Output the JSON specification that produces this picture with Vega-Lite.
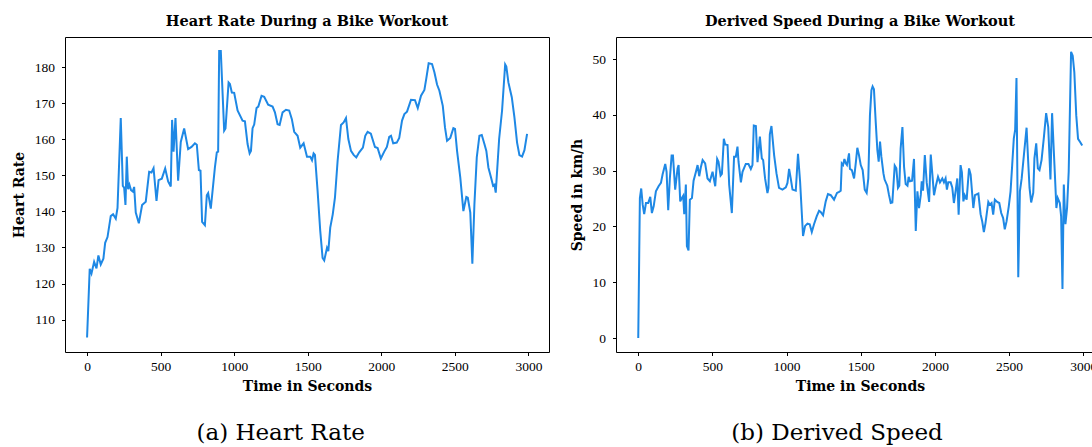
{
  "$schema": "https://vega.github.io/schema/vega-lite/v6.json",
  "padding": {"left": 11, "top": 13, "right": 0, "bottom": 0},
  "background": "white",
  "config": {
    "font": "DejaVu Serif",
    "view": {"stroke": "black", "strokeWidth": 1},
    "axis": {
      "grid": false, "domain": false, "ticks": true, "tickColor": "black", "tickSize": 3.5, "tickWidth": 1,
      "labelFont": "Liberation Serif", "labelFontSize": 13.5, "labelColor": "black", "labelPadding": 4,
      "titleFont": "DejaVu Serif", "titleFontSize": 14, "titleFontWeight": "bold", "titleColor": "black"
    },
    "axisY": {"labelPadding": 7, "titlePadding": 8},
    "axisX": {"titlePadding": 6},
    "title": {"font": "DejaVu Serif", "fontSize": 14.5, "fontWeight": "bold", "color": "black", "offset": 8}
  },
  "datasets": {
    "hr": [
      {"t":0,"hr":105},{"t":18,"hr":124.1},{"t":30,"hr":122.8},{"t":48,"hr":126},{"t":64,"hr":124.2},{"t":77,"hr":127.8},{"t":93,"hr":125.3},{"t":111,"hr":126.9},{"t":123,"hr":131.3},{"t":139,"hr":132.9},{"t":161,"hr":138.7},{"t":177,"hr":139.2},{"t":195,"hr":138},{"t":207,"hr":141},{"t":229,"hr":165.9},{"t":243,"hr":147.1},{"t":252,"hr":146.6},{"t":261,"hr":141.8},{"t":270,"hr":155.2},{"t":279,"hr":146.2},{"t":288,"hr":147.4},{"t":299,"hr":145.9},{"t":311,"hr":145.5},{"t":320,"hr":146.8},{"t":331,"hr":139.7},{"t":352,"hr":136.7},{"t":374,"hr":141.8},{"t":399,"hr":142.7},{"t":422,"hr":151},{"t":438,"hr":150.8},{"t":452,"hr":152},{"t":472,"hr":142.9},{"t":486,"hr":148.7},{"t":508,"hr":149.1},{"t":531,"hr":151.9},{"t":551,"hr":148.3},{"t":569,"hr":146.9},{"t":578,"hr":165.4},{"t":588,"hr":156.6},{"t":601,"hr":165.9},{"t":619,"hr":148.5},{"t":637,"hr":159.3},{"t":660,"hr":163},{"t":687,"hr":157.3},{"t":710,"hr":157.9},{"t":733,"hr":158.9},{"t":746,"hr":158.5},{"t":760,"hr":151.5},{"t":771,"hr":151.3},{"t":782,"hr":137.1},{"t":801,"hr":136.2},{"t":814,"hr":144.5},{"t":823,"hr":145.1},{"t":841,"hr":140.8},{"t":869,"hr":152.2},{"t":882,"hr":156.4},{"t":891,"hr":156.6},{"t":898,"hr":184.5},{"t":909,"hr":184.5},{"t":932,"hr":162.4},{"t":941,"hr":163},{"t":962,"hr":175.8},{"t":971,"hr":175.4},{"t":984,"hr":173},{"t":1000,"hr":172.9},{"t":1023,"hr":168},{"t":1057,"hr":165.2},{"t":1073,"hr":165},{"t":1091,"hr":158.7},{"t":1105,"hr":156.1},{"t":1114,"hr":156.8},{"t":1125,"hr":163.1},{"t":1136,"hr":164.1},{"t":1152,"hr":168.7},{"t":1164,"hr":169.1},{"t":1186,"hr":172.1},{"t":1204,"hr":171.8},{"t":1231,"hr":169.6},{"t":1261,"hr":169.1},{"t":1277,"hr":167.5},{"t":1295,"hr":164.2},{"t":1309,"hr":164},{"t":1329,"hr":167.5},{"t":1352,"hr":168.2},{"t":1374,"hr":168},{"t":1392,"hr":165.6},{"t":1408,"hr":162.1},{"t":1431,"hr":161},{"t":1449,"hr":157.7},{"t":1472,"hr":158.9},{"t":1495,"hr":155.2},{"t":1517,"hr":155.2},{"t":1529,"hr":154.2},{"t":1540,"hr":156.1},{"t":1549,"hr":155.7},{"t":1567,"hr":145.7},{"t":1585,"hr":134.6},{"t":1601,"hr":127.1},{"t":1612,"hr":126.4},{"t":1631,"hr":129.9},{"t":1640,"hr":129},{"t":1653,"hr":135.5},{"t":1670,"hr":139.2},{"t":1685,"hr":143.8},{"t":1703,"hr":154},{"t":1726,"hr":164},{"t":1744,"hr":164.7},{"t":1760,"hr":165.9},{"t":1776,"hr":160.1},{"t":1794,"hr":156.8},{"t":1812,"hr":155.7},{"t":1830,"hr":155},{"t":1850,"hr":156.4},{"t":1875,"hr":157.7},{"t":1891,"hr":161},{"t":1907,"hr":162.1},{"t":1929,"hr":161.6},{"t":1957,"hr":157.9},{"t":1975,"hr":157.6},{"t":1997,"hr":154.7},{"t":2020,"hr":156.6},{"t":2038,"hr":157.9},{"t":2054,"hr":160.7},{"t":2066,"hr":161},{"t":2081,"hr":158.9},{"t":2105,"hr":159.1},{"t":2122,"hr":160.4},{"t":2141,"hr":165.2},{"t":2157,"hr":167},{"t":2175,"hr":167.7},{"t":2202,"hr":171},{"t":2229,"hr":170.9},{"t":2248,"hr":168.7},{"t":2270,"hr":172.1},{"t":2293,"hr":173.7},{"t":2306,"hr":176.9},{"t":2322,"hr":181.1},{"t":2345,"hr":180.9},{"t":2361,"hr":178.6},{"t":2379,"hr":175.2},{"t":2395,"hr":173.5},{"t":2418,"hr":169.3},{"t":2433,"hr":163.3},{"t":2447,"hr":159.6},{"t":2469,"hr":160.4},{"t":2490,"hr":163.1},{"t":2501,"hr":162.9},{"t":2515,"hr":156.8},{"t":2537,"hr":149.4},{"t":2558,"hr":140.1},{"t":2578,"hr":144},{"t":2588,"hr":143.8},{"t":2605,"hr":139.7},{"t":2619,"hr":125.5},{"t":2633,"hr":142},{"t":2649,"hr":155},{"t":2667,"hr":161},{"t":2683,"hr":161.2},{"t":2701,"hr":158.7},{"t":2714,"hr":156.8},{"t":2728,"hr":152.2},{"t":2746,"hr":149.4},{"t":2760,"hr":147.1},{"t":2769,"hr":147.4},{"t":2778,"hr":145.2},{"t":2801,"hr":160.1},{"t":2821,"hr":168},{"t":2842,"hr":180.8},{"t":2850,"hr":180.2},{"t":2864,"hr":175.8},{"t":2887,"hr":171.7},{"t":2905,"hr":166.1},{"t":2923,"hr":159.1},{"t":2939,"hr":155.6},{"t":2957,"hr":155.2},{"t":2973,"hr":157},{"t":2991,"hr":161.5}
    ],
    "speed": [
      {"t":0,"v":0},{"t":11,"v":25.1},{"t":20,"v":26.8},{"t":30,"v":23.9},{"t":40,"v":22.2},{"t":52,"v":24.2},{"t":67,"v":24.2},{"t":81,"v":25.3},{"t":92,"v":22.4},{"t":104,"v":23.6},{"t":119,"v":26.3},{"t":137,"v":27.2},{"t":153,"v":27.8},{"t":164,"v":29.3},{"t":182,"v":31.2},{"t":191,"v":29.8},{"t":202,"v":22.9},{"t":213,"v":28.6},{"t":225,"v":32.7},{"t":234,"v":32.7},{"t":249,"v":26.6},{"t":265,"v":30.4},{"t":272,"v":31},{"t":283,"v":24.5},{"t":294,"v":25.1},{"t":303,"v":25.5},{"t":310,"v":22.2},{"t":321,"v":27.5},{"t":328,"v":16.5},{"t":339,"v":15.7},{"t":348,"v":24.8},{"t":362,"v":25.1},{"t":373,"v":28.2},{"t":389,"v":29.8},{"t":400,"v":31},{"t":411,"v":29},{"t":422,"v":30.6},{"t":434,"v":31.9},{"t":451,"v":31.3},{"t":467,"v":28.6},{"t":483,"v":28.1},{"t":501,"v":29.8},{"t":519,"v":27.2},{"t":532,"v":32.1},{"t":541,"v":31.6},{"t":555,"v":29.1},{"t":564,"v":29.4},{"t":577,"v":35.7},{"t":586,"v":34.7},{"t":602,"v":34.6},{"t":613,"v":27.5},{"t":631,"v":22.4},{"t":646,"v":32.5},{"t":658,"v":32.5},{"t":669,"v":34.3},{"t":676,"v":31.6},{"t":692,"v":27.9},{"t":703,"v":29.8},{"t":725,"v":31.2},{"t":743,"v":31.2},{"t":759,"v":30.3},{"t":770,"v":31},{"t":779,"v":38.1},{"t":793,"v":38},{"t":804,"v":31.5},{"t":820,"v":36.1},{"t":833,"v":32.2},{"t":842,"v":31.9},{"t":855,"v":28.6},{"t":871,"v":26},{"t":878,"v":26.9},{"t":887,"v":36.5},{"t":898,"v":38},{"t":916,"v":32.8},{"t":932,"v":29.5},{"t":949,"v":26.9},{"t":972,"v":26.6},{"t":995,"v":27},{"t":1006,"v":27.8},{"t":1017,"v":30.3},{"t":1028,"v":28.6},{"t":1040,"v":26.6},{"t":1062,"v":26.4},{"t":1077,"v":33},{"t":1091,"v":28.1},{"t":1111,"v":18.3},{"t":1125,"v":20.1},{"t":1141,"v":20.5},{"t":1156,"v":20.4},{"t":1170,"v":19},{"t":1185,"v":20.4},{"t":1203,"v":21.8},{"t":1219,"v":22.8},{"t":1230,"v":22.6},{"t":1246,"v":22},{"t":1264,"v":24.5},{"t":1279,"v":25.8},{"t":1298,"v":25.6},{"t":1320,"v":24.8},{"t":1340,"v":26},{"t":1354,"v":26.2},{"t":1365,"v":26.4},{"t":1372,"v":31.3},{"t":1381,"v":31},{"t":1390,"v":32.1},{"t":1399,"v":31.3},{"t":1407,"v":31},{"t":1421,"v":33.1},{"t":1427,"v":30.3},{"t":1440,"v":30.1},{"t":1455,"v":28.6},{"t":1467,"v":31.5},{"t":1477,"v":34.1},{"t":1488,"v":32.8},{"t":1500,"v":31},{"t":1513,"v":30.1},{"t":1527,"v":26.6},{"t":1540,"v":26},{"t":1551,"v":28.6},{"t":1562,"v":39.9},{"t":1572,"v":44.4},{"t":1580,"v":45.1},{"t":1589,"v":44.6},{"t":1601,"v":38.7},{"t":1612,"v":33.7},{"t":1621,"v":31.6},{"t":1630,"v":35.2},{"t":1639,"v":32.5},{"t":1653,"v":29.5},{"t":1661,"v":28.4},{"t":1679,"v":27.3},{"t":1690,"v":25.7},{"t":1702,"v":24.2},{"t":1713,"v":24.3},{"t":1729,"v":30.9},{"t":1740,"v":30.4},{"t":1751,"v":26.9},{"t":1760,"v":27.3},{"t":1769,"v":34},{"t":1781,"v":37.8},{"t":1792,"v":30.7},{"t":1803,"v":27.6},{"t":1815,"v":27.3},{"t":1823,"v":28.9},{"t":1832,"v":28.1},{"t":1846,"v":28.2},{"t":1859,"v":32.1},{"t":1871,"v":19.2},{"t":1882,"v":26.3},{"t":1893,"v":23.3},{"t":1905,"v":25.7},{"t":1911,"v":28.1},{"t":1920,"v":26.4},{"t":1932,"v":32.8},{"t":1945,"v":27.8},{"t":1961,"v":24.4},{"t":1972,"v":32.9},{"t":1983,"v":29.3},{"t":1994,"v":25.6},{"t":2006,"v":27.2},{"t":2021,"v":28.9},{"t":2034,"v":27.9},{"t":2050,"v":28.6},{"t":2061,"v":27.9},{"t":2072,"v":28.6},{"t":2081,"v":26.6},{"t":2090,"v":27.9},{"t":2106,"v":27.9},{"t":2117,"v":27},{"t":2128,"v":24.2},{"t":2140,"v":26.4},{"t":2151,"v":28.6},{"t":2160,"v":22.1},{"t":2173,"v":31},{"t":2182,"v":29.7},{"t":2192,"v":24.5},{"t":2201,"v":25.6},{"t":2214,"v":24.8},{"t":2230,"v":30.4},{"t":2241,"v":29.3},{"t":2259,"v":23.3},{"t":2270,"v":25.6},{"t":2293,"v":25.9},{"t":2308,"v":22.2},{"t":2319,"v":20.9},{"t":2330,"v":19},{"t":2341,"v":20.6},{"t":2360,"v":24.4},{"t":2370,"v":23.9},{"t":2382,"v":24.2},{"t":2393,"v":22.1},{"t":2404,"v":24.8},{"t":2420,"v":24.4},{"t":2434,"v":24.2},{"t":2447,"v":22.4},{"t":2460,"v":21.5},{"t":2471,"v":19.5},{"t":2483,"v":20.9},{"t":2498,"v":23.6},{"t":2510,"v":26.3},{"t":2521,"v":31},{"t":2532,"v":35.8},{"t":2541,"v":37.3},{"t":2550,"v":46.6},{"t":2562,"v":10.9},{"t":2573,"v":26.3},{"t":2585,"v":28.6},{"t":2600,"v":32.8},{"t":2618,"v":37.7},{"t":2629,"v":31.6},{"t":2638,"v":26.9},{"t":2649,"v":24.3},{"t":2663,"v":26},{"t":2671,"v":32.2},{"t":2683,"v":34.9},{"t":2694,"v":30.4},{"t":2705,"v":30.1},{"t":2719,"v":31.9},{"t":2734,"v":35.8},{"t":2750,"v":40.3},{"t":2764,"v":37.8},{"t":2779,"v":28.4},{"t":2790,"v":40.3},{"t":2806,"v":31},{"t":2819,"v":23.3},{"t":2828,"v":25.1},{"t":2842,"v":24.2},{"t":2851,"v":21.8},{"t":2860,"v":8.8},{"t":2869,"v":27.5},{"t":2880,"v":20.4},{"t":2891,"v":23.3},{"t":2902,"v":29.8},{"t":2918,"v":51.3},{"t":2929,"v":50.6},{"t":2940,"v":47.6},{"t":2953,"v":39.9},{"t":2965,"v":35.7},{"t":2980,"v":35.1},{"t":2993,"v":34.5}
    ]
  },
  "hconcat": [
    {
      "title": {"text": "(a) Heart Rate", "orient": "bottom", "anchor": "middle", "fontSize": 23, "fontWeight": "normal", "font": "DejaVu Serif", "offset": 28},
      "vconcat": [
        {
          "title": {"text": "Heart Rate During a Bike Workout"},
          "width": 484, "height": 315,
          "data": {"name": "hr"},
          "mark": {"type": "line", "color": "#1E88E5", "strokeWidth": 2, "clip": true},
          "encoding": {
            "x": {"field": "t", "type": "quantitative", "scale": {"domain": [-150, 3140], "nice": false, "zero": false}, "axis": {"title": "Time in Seconds", "format": "d", "values": [0, 500, 1000, 1500, 2000, 2500, 3000]}},
            "y": {"field": "hr", "type": "quantitative", "scale": {"domain": [101.0, 188.4], "nice": false, "zero": false}, "axis": {"title": "Heart Rate", "format": "d", "values": [110, 120, 130, 140, 150, 160, 170, 180]}}
          }
        }
      ]
    },
    {
      "title": {"text": "(b) Derived Speed", "orient": "bottom", "anchor": "middle", "fontSize": 23, "fontWeight": "normal", "font": "DejaVu Serif", "offset": 28},
      "vconcat": [
        {
          "title": {"text": "Derived Speed During a Bike Workout"},
          "width": 488, "height": 315,
          "data": {"name": "speed"},
          "mark": {"type": "line", "color": "#1E88E5", "strokeWidth": 2, "clip": true},
          "encoding": {
            "x": {"field": "t", "type": "quantitative", "scale": {"domain": [-150, 3140], "nice": false, "zero": false}, "axis": {"title": "Time in Seconds", "format": "d", "values": [0, 500, 1000, 1500, 2000, 2500, 3000]}},
            "y": {"field": "v", "type": "quantitative", "scale": {"domain": [-2.5, 53.95], "nice": false, "zero": false}, "axis": {"title": "Speed in km/h", "format": "d", "values": [0, 10, 20, 30, 40, 50]}}
          }
        }
      ]
    }
  ],
  "spacing": 19
}
